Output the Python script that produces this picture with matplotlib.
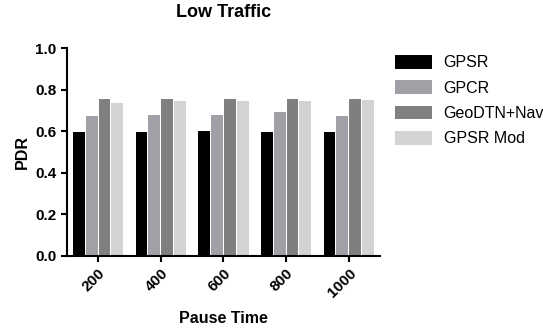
import numpy as np
import matplotlib.pyplot as plt

plt.rcParams['font.family'] = ['Liberation Sans', 'DejaVu Sans']

# Datos
pause_time = ['200', '400', '600', '800', '1000']
gpsr = [0.595, 0.597, 0.600, 0.595, 0.595]
gpcr = [0.675, 0.680, 0.680, 0.690, 0.675]
geodtn = [0.755, 0.755, 0.757, 0.755, 0.755]
gpsr_mod = [0.738, 0.745, 0.745, 0.745, 0.750]

series = [gpsr, gpcr, geodtn, gpsr_mod]
labels = ['GPSR', 'GPCR', 'GeoDTN+Nav', 'GPSR Mod']
colors = ['#000000', '#a0a0a6', '#7f7f7f', '#d3d3d3']

fig = plt.figure(figsize=(5.43, 3.29), dpi=100)
ax = fig.add_axes([0.123, 0.222, 0.577, 0.632])

x = np.arange(len(pause_time))
slot = 0.205
width = 0.19
for i, (vals, lab, col) in enumerate(zip(series, labels, colors)):
    ax.bar(x + (i - 1.5) * slot, vals, width, color=col, label=lab)

ax.set_xlim(-0.5, 4.5)
ax.set_ylim(0, 1.0)
ax.set_yticks([0.0, 0.2, 0.4, 0.6, 0.8, 1.0])
ax.set_yticklabels(['0.0', '0.2', '0.4', '0.6', '0.8', '1.0'], fontweight='bold', fontsize=11)
ax.set_xticks(x)
ax.set_xticklabels(pause_time, rotation=45, ha='right', rotation_mode='anchor',
                   fontweight='bold', fontsize=11)

for s in ['top', 'right']:
    ax.spines[s].set_visible(False)
for s in ['left', 'bottom']:
    ax.spines[s].set_linewidth(1.5)
ax.tick_params(width=1.5, length=4, direction='out')

ax.set_title('Low Traffic', fontweight='bold', fontsize=13, pad=22)
ax.set_xlabel('Pause Time', fontweight='bold', fontsize=11.5, labelpad=8)
ax.set_ylabel('PDR', fontweight='bold', fontsize=11.5)

ax.legend(loc='upper left', bbox_to_anchor=(395 / 543, 1 - 55 / 329),
          bbox_transform=fig.transFigure, borderaxespad=0, borderpad=0,
          frameon=False, fontsize=11.5, handlelength=2.3, handleheight=0.95,
          labelspacing=0.62, handletextpad=0.75)

fig.savefig('out.png', dpi=100)
